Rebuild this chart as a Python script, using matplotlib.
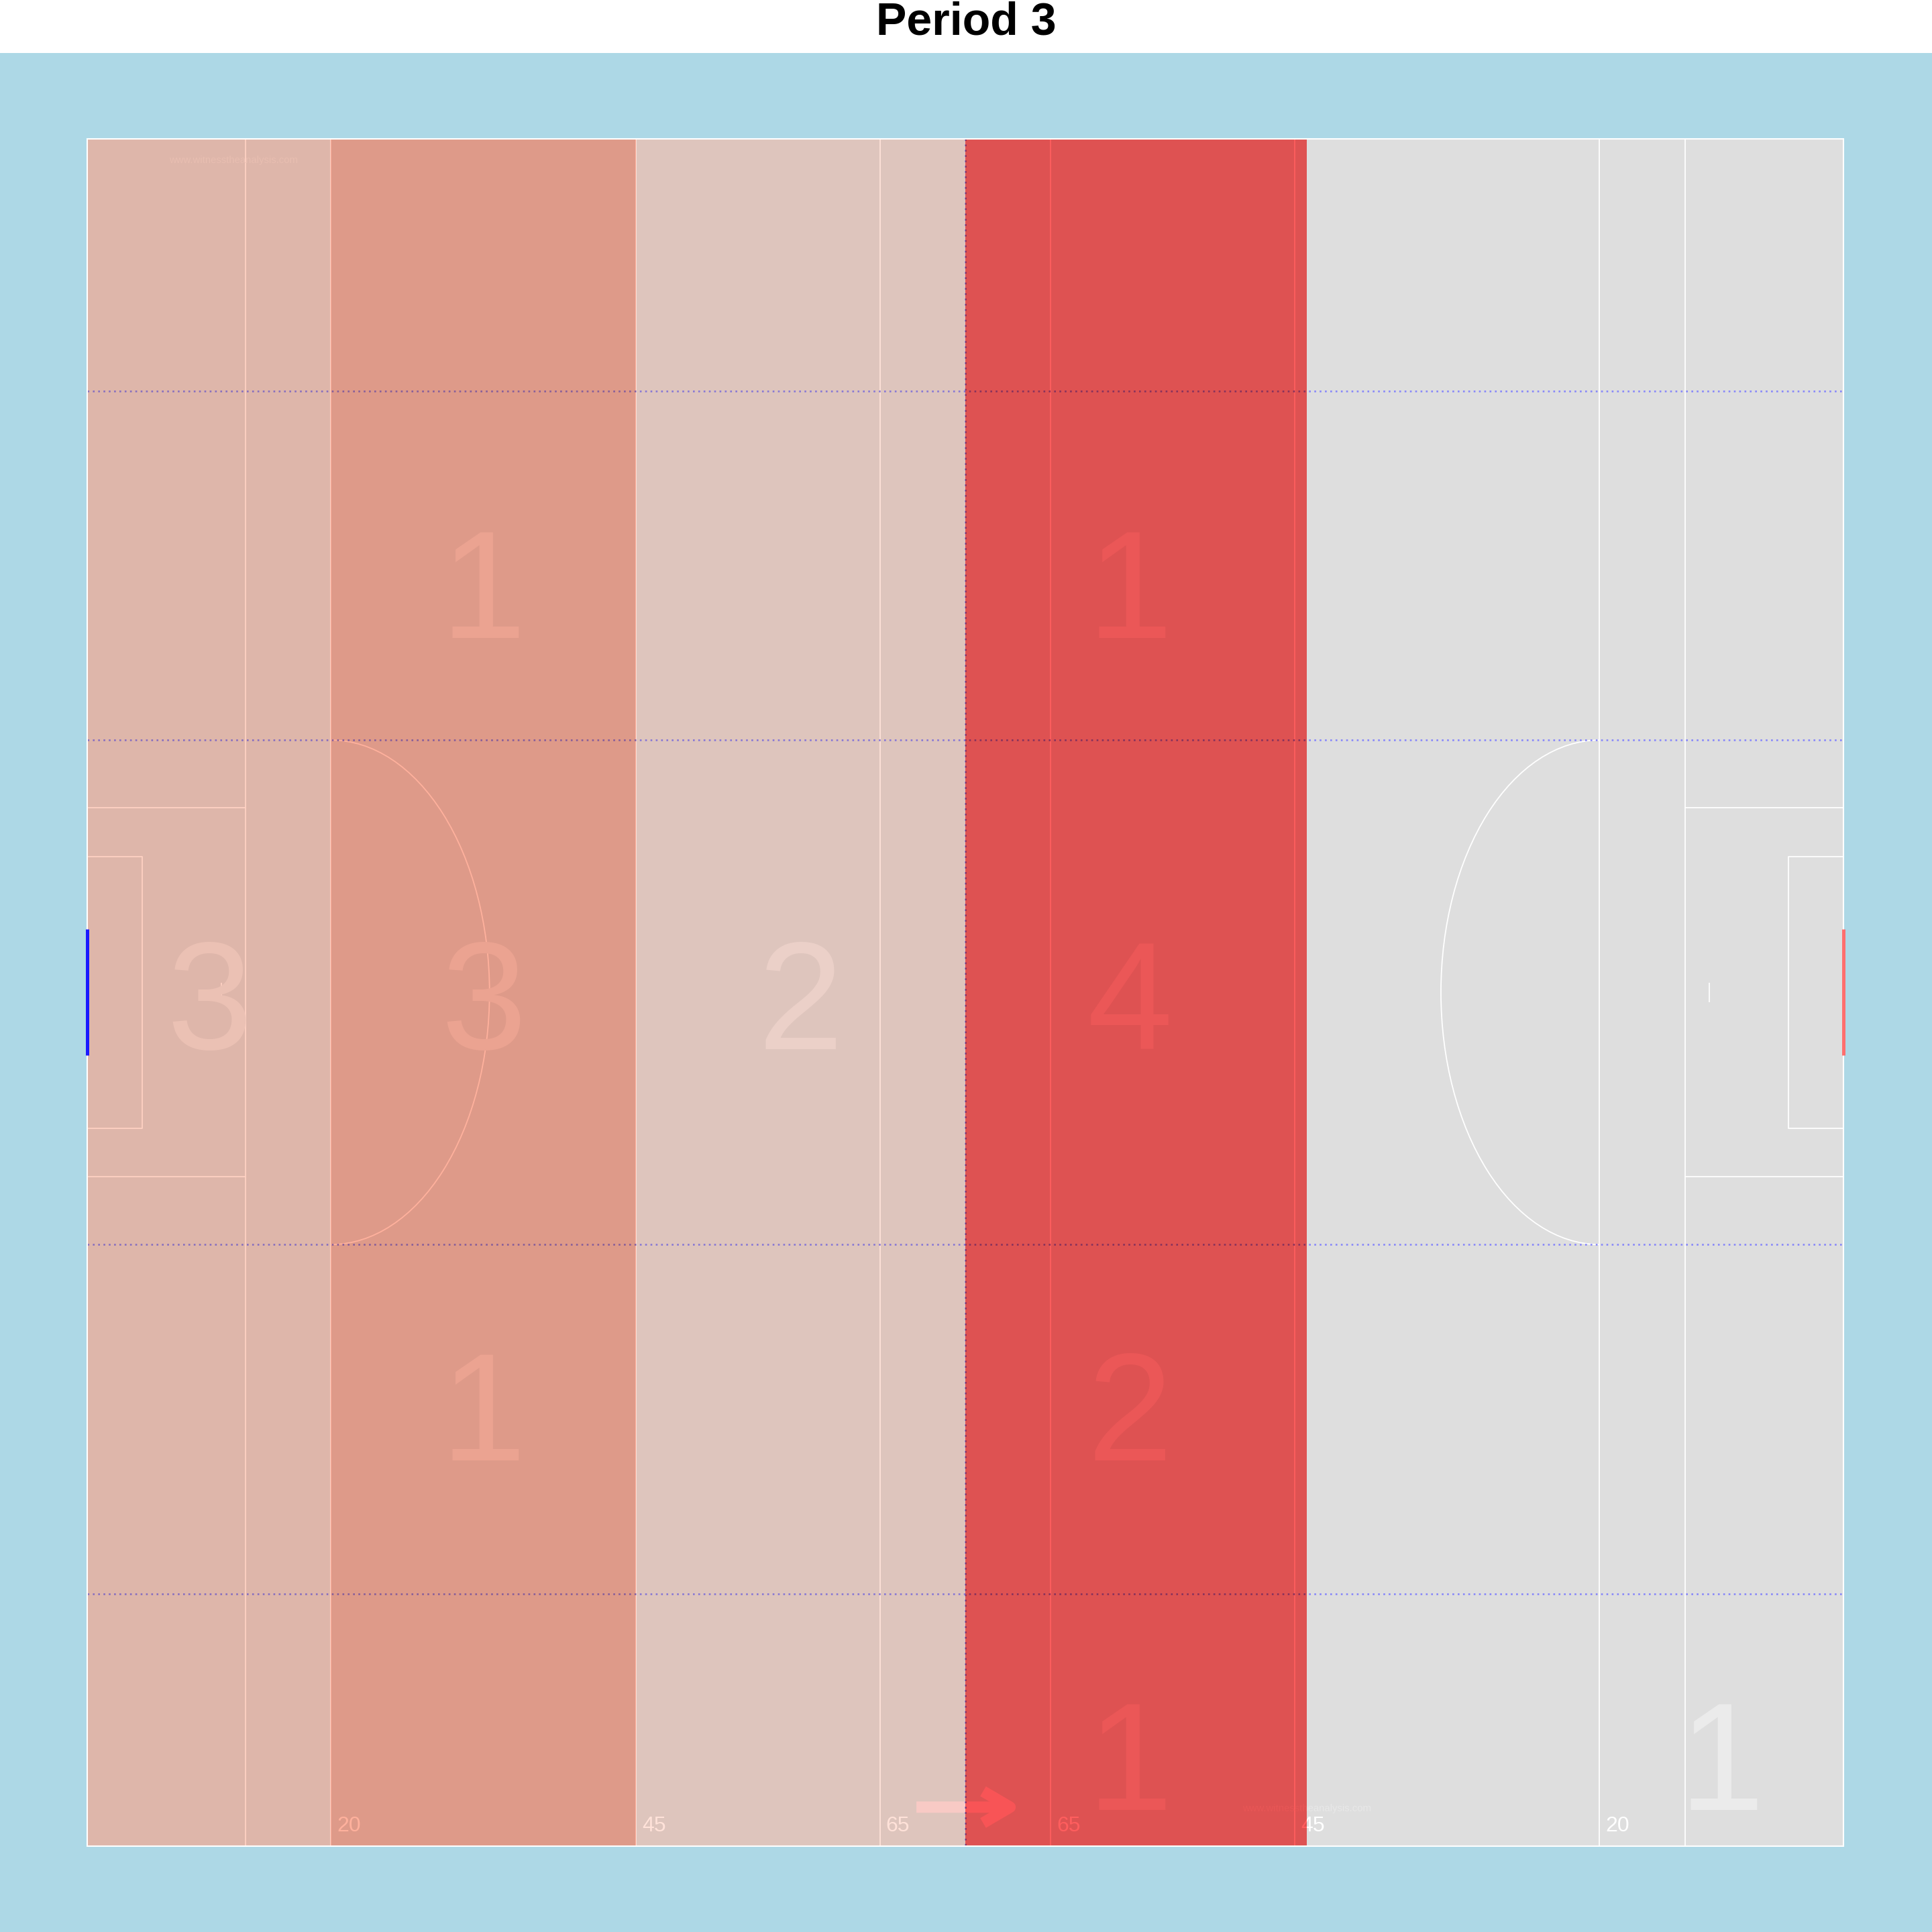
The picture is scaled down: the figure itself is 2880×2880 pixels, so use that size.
import numpy as np
import matplotlib
matplotlib.use("Agg")
import matplotlib.pyplot as plt
from matplotlib.patches import Rectangle, Arc, FancyArrowPatch
from matplotlib.colors import to_rgb
import matplotlib.transforms as mtransforms

plt.rcParams['font.family'] = ['Liberation Sans', 'DejaVu Sans']

# ---------------- data ----------------
TITLE = "Period 3"
PITCH_LENGTH = 144
PITCH_WIDTH = 88

# pitch columns (metres from the left end line)
zone_edges = [0, 20, 45, 72, 100, 124, 144]
zone_centres = [10, 32.5, 58.5, 85.5, 111.5, 134]
zone_tints = ["#FFD1C3", "#FFB19D", "#FFE2D9", "#FF5E5E", "#FFFFFF", "#FFFFFF"]

# rows (metres from the top touchline) and the counts per cell
row_centres = [6.5, 22.9, 44.1, 65.3, 83.3]
counts_row1 = [0, 0, 0, 0, 0, 0]
counts_row2 = [0, 1, 0, 1, 0, 0]
counts_row3 = [3, 3, 2, 4, 0, 0]
counts_row4 = [0, 1, 0, 2, 0, 0]
counts_row5 = [0, 0, 0, 1, 0, 1]
counts = [counts_row1, counts_row2, counts_row3, counts_row4, counts_row5]

band_lines = [13, 31, 57, 75]
marking_labels = ["20", "45", "65", "65", "45", "20"]
marking_x = [20, 45, 65, 79, 99, 124]
marking_label_y = 86.84
watermark = "www.witnesstheanalysis.com"
watermark_xy = [(12.0, 1.1), (100.0, 86.07)]
arrow_from = (68.0, 86.0)
arrow_to = (76.6, 86.0)

# ---------------- figure ----------------
W = 2880
fig = plt.figure(figsize=(28.8, 28.8), dpi=100, facecolor="white")
ax = fig.add_axes([0, 0, 1, 1 - 79 / W])
ax.set_facecolor("#ADD8E6")
ax.set_xlim(-7.133, 151.26)
ax.set_ylim(92.436, -4.416)
ax.set_xticks([])
ax.set_yticks([])
for s in ax.spines.values():
    s.set_visible(False)


def tint(base, F):
    b = np.array(base, dtype=float) / 255.0
    return tuple(np.clip(b * np.array(to_rgb(F)), 0, 1))


def digit_tr(fs):
    return mtransforms.offset_copy(ax.transData, fig=fig, x=0, y=-0.358 * fs, units="points")


ax.add_patch(Rectangle((0, 0), PITCH_LENGTH, PITCH_WIDTH, facecolor="#DEDEDE",
                       edgecolor="none", zorder=0.5))

LW = 1.3


def draw_layer(F, clip):
    lc = tint((255, 255, 255), F)
    arts = []
    kw = dict(color=lc, lw=LW, zorder=3, solid_capstyle="butt")
    for x in [13, 20, 45, 65, 79, 99, 124, 131]:
        arts += ax.plot([x, x], [0, PITCH_WIDTH], **kw)
    for y in (34.5, 53.5):
        arts += ax.plot([0, 13], [y, y], **kw)
        arts += ax.plot([131, 144], [y, y], **kw)
    arts += ax.plot([0, 4.5, 4.5, 0], [37, 37, 51, 51], **kw)
    arts += ax.plot([144, 139.5, 139.5, 144], [37, 37, 51, 51], **kw)
    arts += ax.plot([11, 11], [43.5, 44.5], **kw)
    arts += ax.plot([133, 133], [43.5, 44.5], **kw)
    a1 = Arc((20, 44), 26, 26, theta1=-90, theta2=90, color=lc, lw=LW, zorder=3)
    a2 = Arc((124, 44), 26, 26, theta1=90, theta2=270, color=lc, lw=LW, zorder=3)
    ax.add_patch(a1)
    ax.add_patch(a2)
    arts += [a1, a2]
    # arrow
    arr = FancyArrowPatch(arrow_from, arrow_to,
                          arrowstyle="->,head_length=2.9,head_width=1.7",
                          mutation_scale=10, lw=12.2, color=tint((248, 228, 232), F),
                          shrinkA=0, shrinkB=0, zorder=3.5, capstyle="butt",
                          joinstyle="round")
    ax.add_patch(arr)
    arts.append(arr)
    # dotted band lines
    dc = tint((135, 135, 250), F)
    dkw = dict(color=dc, lw=1.9, ls=(0, (1, 2)), zorder=4, dash_capstyle="butt")
    for y in band_lines:
        arts += ax.plot([0, PITCH_LENGTH], [y, y], **dkw)
    arts += ax.plot([72, 72], [0, PITCH_WIDTH], **dkw)
    # distance labels
    for lab, x in zip(marking_labels, marking_x):
        t = ax.text(x + 0.5, marking_label_y, lab, color=lc, fontsize=23, ha="left",
                    va="baseline", transform=digit_tr(23), zorder=3)
        arts.append(t)
    for (wx, wy) in watermark_xy:
        t = ax.text(wx, wy, watermark, color=tint((232, 232, 232), F), fontsize=10.7,
                    ha="center", va="center", zorder=3)
        arts.append(t)
    for a in arts:
        a.set_clip_on(True)
        a.set_clip_path(clip)


for i, F in enumerate(zone_tints):
    x0, x1 = zone_edges[i], zone_edges[i + 1]
    rect = Rectangle((x0, 0), x1 - x0, PITCH_WIDTH, facecolor=tint((222, 222, 222), F),
                     edgecolor="none", zorder=1)
    ax.add_patch(rect)
    draw_layer(F, rect)

# counts
for r, row in enumerate(counts):
    for c, n in enumerate(row):
        if n > 0:
            ax.text(zone_centres[c], row_centres[r], str(n), fontsize=165,
                    color=tint((235, 235, 235), zone_tints[c]), ha="center",
                    va="baseline", transform=digit_tr(165), zorder=5)

# border and goals
ax.add_patch(Rectangle((0, 0), PITCH_LENGTH, PITCH_WIDTH, fill=False, edgecolor="white",
                       lw=1.5, zorder=6))
ax.plot([0, 0], [40.75, 47.25], color="#1A1AFF", lw=3.6, zorder=7, solid_capstyle="butt")
ax.plot([PITCH_LENGTH, PITCH_LENGTH], [40.75, 47.25], color="#FF6E6E", lw=3.6, zorder=7,
        solid_capstyle="butt")

fig.text(0.5, 1 - 51 / W, TITLE, ha="center", va="baseline", fontsize=49,
         fontweight="bold", color="black")

fig.savefig("out.png", dpi=100, facecolor="white")
